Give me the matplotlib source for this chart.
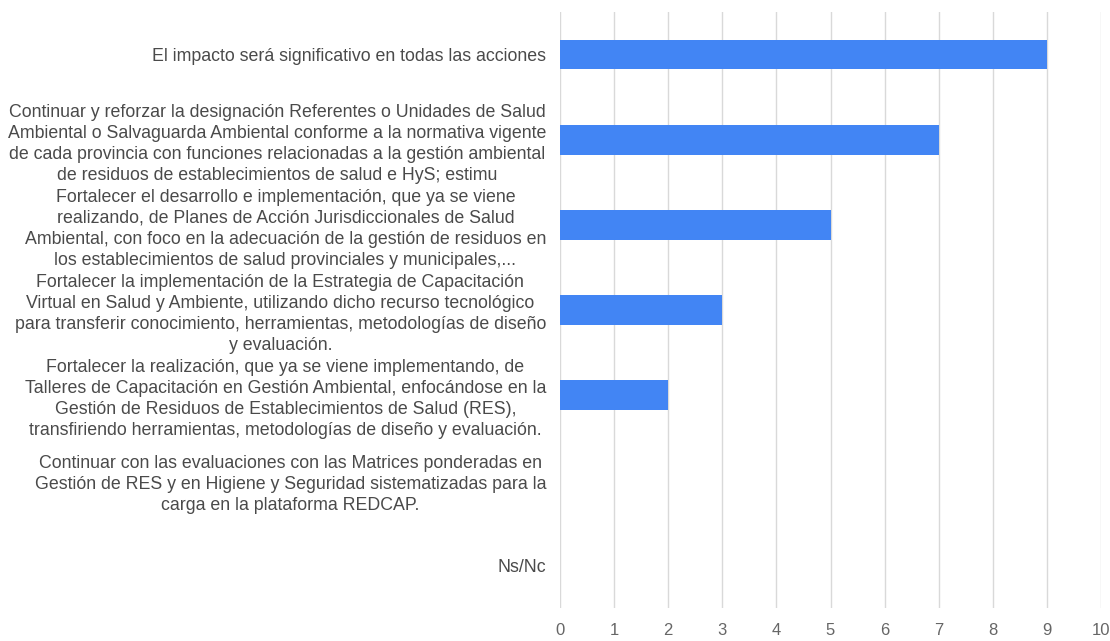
import matplotlib.pyplot as plt

plt.rcParams['font.family'] = ['Liberation Sans', 'DejaVu Sans']

# respuestas (de arriba hacia abajo) y cantidad de menciones
categorias = [
    "El impacto será significativo en todas las acciones",
    "Continuar y reforzar la designación Referentes o Unidades de Salud\n"
    "Ambiental o Salvaguarda Ambiental conforme a la normativa vigente\n"
    "de cada provincia con funciones relacionadas a la gestión ambiental\n"
    "de residuos de establecimientos de salud e HyS; estimu",
    "Fortalecer el desarrollo e implementación, que ya se viene\n"
    "realizando, de Planes de Acción Jurisdiccionales de Salud\n"
    "Ambiental, con foco en la adecuación de la gestión de residuos en\n"
    "los establecimientos de salud provinciales y municipales,...",
    "Fortalecer la implementación de la Estrategia de Capacitación\n"
    "Virtual en Salud y Ambiente, utilizando dicho recurso tecnológico\n"
    "para transferir conocimiento, herramientas, metodologías de diseño\n"
    "y evaluación.",
    "Fortalecer la realización, que ya se viene implementando, de\n"
    "Talleres de Capacitación en Gestión Ambiental, enfocándose en la\n"
    "Gestión de Residuos de Establecimientos de Salud (RES),\n"
    "transfiriendo herramientas, metodologías de diseño y evaluación.",
    "Continuar con las evaluaciones con las Matrices ponderadas en\n"
    "Gestión de RES y en Higiene y Seguridad sistematizadas para la\n"
    "carga en la plataforma REDCAP.",
    "Ns/Nc",
]
valores = [9, 7, 5, 3, 2, 0, 0]
ticks_x = list(range(0, 11))

fig = plt.figure(figsize=(11.10, 6.41), dpi=100)
ax = fig.add_axes([560 / 1110, 1 - 608 / 641, 541 / 1110, 596 / 641])

pos = list(range(len(categorias)))
ax.barh(pos, valores, height=0.35, color='#4285f4', zorder=3)

ax.set_ylim(len(categorias) - 0.5, -0.5)
ax.set_xlim(0, 10)
ax.set_xticks(ticks_x)
ax.set_yticks(pos)
ax.set_yticklabels(categorias, fontsize=12.8, color='#4a4a4a',
                   multialignment='center', linespacing=1.3)

ax.grid(axis='x', color='#d9d9d9', linewidth=1, zorder=0)
ax.grid(axis='y', visible=False)
for s in ax.spines.values():
    s.set_visible(False)
ax.tick_params(axis='both', length=0)
ax.tick_params(axis='y', pad=10)
ax.tick_params(axis='x', pad=11, labelsize=12, labelcolor='#666666')

fig.savefig('out.png', dpi=100, facecolor='white')
